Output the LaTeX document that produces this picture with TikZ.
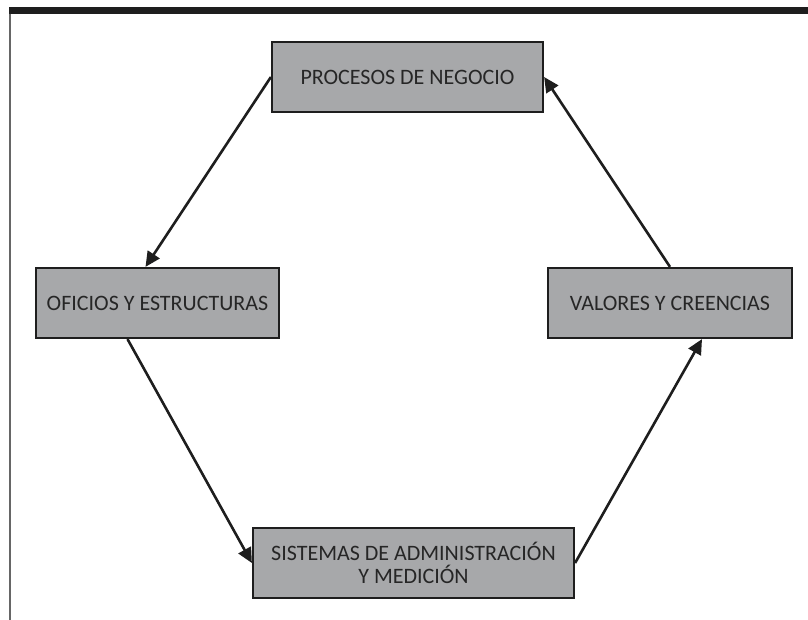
\documentclass[tikz,border=0pt]{standalone}
\usepackage{fontspec}
\setmainfont{Carlito}
\usetikzlibrary{arrows.meta}

\definecolor{cajagris}{HTML}{A7A8AA}
\definecolor{trazo}{HTML}{1E1E1E}

\begin{document}
\begin{tikzpicture}[
  x=1pt, y=-1pt,
  font=\fontsize{22}{25}\selectfont,
  caja/.style={rectangle, draw=trazo, line width=2.2pt, fill=cajagris, text=black!85, minimum width=#1, minimum height=70pt, align=center, inner sep=0pt},
  caja/.default=243pt,
  flecha/.style={-{Triangle[length=15pt, width=14pt]}, line width=2.6pt, draw=trazo}
]
\useasboundingbox (0,0) rectangle (808,620);

% MARCO
\fill[trazo] (9,7) rectangle (808,14.5);
\draw[black!60, line width=1.5pt] (10,14) -- (10,620);

% NODOS
\node[caja=271pt] (procesos) at (407.5,77) {PROCESOS DE NEGOCIO};
\node[caja=243pt] (oficios) at (157.5,303) {OFICIOS Y ESTRUCTURAS};
\node[caja=244pt] (valores) at (670,303) {VALORES Y CREENCIAS};
\node[caja=321pt] (sistemas) at (413.5,563) {SISTEMAS DE ADMINISTRACIÓN\\[-2pt] Y MEDICIÓN};

% CICLO
\draw[flecha] (procesos.west) -- ([xshift=-12pt]oficios.north);
\draw[flecha] ([xshift=-30pt]oficios.south) -- (sistemas.west);
\draw[flecha] (sistemas.east) -- ([xshift=32pt]valores.south);
\draw[flecha] (valores.north) -- (procesos.east);

\end{tikzpicture}
\end{document}
